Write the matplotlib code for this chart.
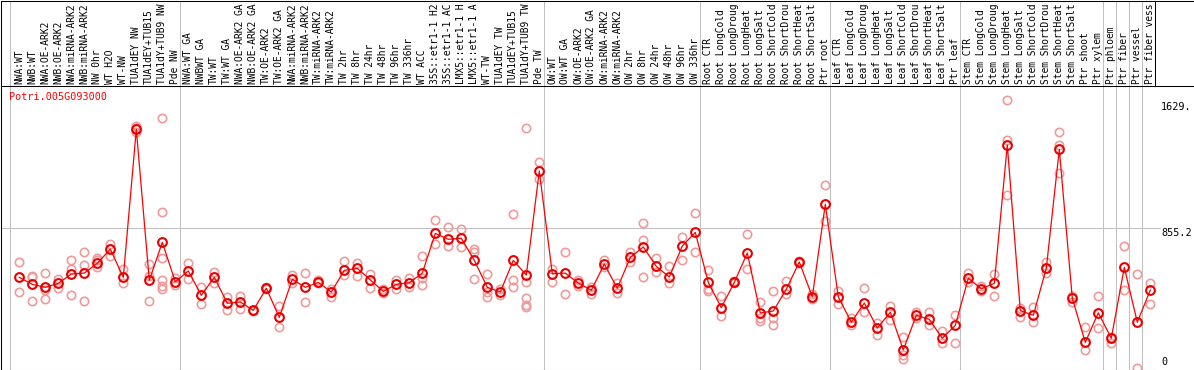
import matplotlib
matplotlib.use("Agg")
import matplotlib.pyplot as plt
from matplotlib.lines import Line2D
import matplotlib.transforms as mtransforms

# ---------------- data ----------------
gene = "Potri.005G093000"

# sample labels as they appear (the header row shows at most 14 characters)
group_1 = ["NWA:WT", "NWB:WT", "NWA:OE-ARK2", "NWB:OE-ARK2", "NWA:miRNA-ARK2",
           "NWB:miRNA-ARK2", "NW 0hr", "WT H2O", "WT-NW", "TUA1dEY NW",
           "TUA1dEY+TUB15", "TUA1dY+TUB9 NW", "Pde NW"]
group_2 = ["NWA:WT GA", "NWBWT GA", "TW:WT", "TW:WT GA", "NWA:OE-ARK2 GA",
           "NWB:OE-ARK2 GA", "TW:OE-ARK2", "TW:OE-ARK2 GA", "NWA:miRNA-ARK2",
           "NWB:miRNA-ARK2", "TW:miRNA-ARK2", "TW:miRNA-ARK2", "TW 2hr", "TW 8hr",
           "TW 24hr", "TW 48hr", "TW 96hr", "TW 336hr", "WT ACC",
           "35S::etr1-1 H2", "35S::etr1-1 AC", "LMX5::etr1-1 H",
           "LMX5::etr1-1 A", "WT-TW", "TUA1dEY TW", "TUA1dEY+TUB15",
           "TUA1dY+TUB9 TW", "Pde TW"]
group_3 = ["OW:WT", "OW:WT GA", "OW:OE-ARK2", "OW:OE-ARK2 GA", "OW:miRNA-ARK2",
           "OW:miRNA-ARK2", "OW 2hr", "OW 8hr", "OW 24hr", "OW 48hr", "OW 96hr",
           "OW 336hr"]
group_4 = ["Root CTR", "Root LongCold", "Root LongDroug", "Root LongHeat",
           "Root LongSalt", "Root ShortCold", "Root ShortDrou", "Root ShortHeat",
           "Root ShortSalt", "Ptr root"]
group_5 = ["Leaf CTR", "Leaf LongCold", "Leaf LongDroug", "Leaf LongHeat",
           "Leaf LongSalt", "Leaf ShortCold", "Leaf ShortDrou", "Leaf ShortHeat",
           "Leaf ShortSalt", "Ptr leaf"]
group_6 = ["Stem CTR", "Stem LongCold", "Stem LongDroug", "Stem LongHeat",
           "Stem LongSalt", "Stem ShortCold", "Stem ShortDrou", "Stem ShortHeat",
           "Stem ShortSalt", "Ptr shoot", "Ptr xylem"]
group_7 = ["Ptr phloem"]
group_8 = ["Ptr fiber"]
group_9 = ["Ptr vessel"]
group_10 = ["Ptr fiber vess"]
groups = [group_1, group_2, group_3, group_4, group_5, group_6,
          group_7, group_8, group_9, group_10]

means = [555, 512, 494, 518, 575, 581, 641, 728, 555, 1461, 537, 769, 528,
         594, 445, 555, 396, 404, 353, 488, 310, 543, 494, 524, 465, 598, 610,
         539, 469, 512, 522, 581, 824, 788, 794, 659, 494, 465, 659, 569, 1206,
         577, 581, 520, 476, 636, 488, 677, 741, 622, 557, 747, 830,
         524, 369, 524, 704, 337, 349, 482, 649, 436, 1002,
         435, 280, 398, 245, 341, 110, 323, 298, 182, 261,
         549, 485, 518, 1365, 351, 323, 610, 1338, 427, 157, 338,
         182, 616, 280, 477]

replicates = [
    [647, 463], [566, 560, 410], [581, 477, 420], [547, 491], [659, 606, 447],
    [708, 630, 410], [675, 661, 618], [759, 687], [606, 518], [1481, 1469, 1446],
    [636, 563, 410], [1528, 953, 671, 537, 502, 482], [549, 508],
    [643, 543], [498, 390], [588, 522], [435, 353], [441, 363], [351, 358],
    [498, 483], [379, 249], [567, 518], [581, 404], [539, 518], [483, 436],
    [653, 567], [644, 563], [577, 488], [482, 457], [539, 482], [553, 494],
    [685, 549, 506], [906, 757], [863, 747], [851, 742], [728, 712, 543],
    [573, 465, 436], [482, 445], [941, 537, 498], [1467, 528, 427, 386, 375],
    [1261, 1157],
    [604, 526], [708, 453], [539, 502], [498, 453], [659, 620], [518, 457],
    [710, 649], [886, 783, 555], [671, 589], [622, 518], [804, 659], [947, 708],
    [598, 483, 471], [439, 316], [534, 518], [818, 604], [402, 308, 288],
    [469, 308, 261], [531, 453], [657, 641], [453, 420], [1118, 901],
    [471, 390], [306, 265], [490, 345], [274, 202], [379, 294], [188, 80, 53],
    [341, 304], [345, 261], [228, 151], [323, 151],
    [580, 528], [502, 471], [575, 439], [1640, 1395, 1057], [365, 314],
    [375, 280], [649, 580], [1442, 1365, 1195], [442, 404], [249, 110],
    [441, 245],
    [192, 151], [747, 477], [575, 0], [520, 390],
]

y_marks = ["1629.", "855.2", "0"]
y_mark_values = [1629, 855.2, 0]

# ---------------- layout helpers ----------------
W, H = 1194, 370
fig = plt.figure(figsize=(W / 100, H / 100), dpi=100)


def rect(x0, y0, x1, y1):
    return [x0 / W, 1 - y1 / H, (x1 - x0) / W, (y1 - y0) / H]


x0_px, dx_px = 19.3, 13.0          # pixel position of first sample, spacing
y0_px, dy_px = 368.0, 0.16335       # pixel of value 0, pixels per unit


def px_to_idx(px):
    return (px - x0_px) / dx_px


def px_to_val(py):
    return (y0_px - py) / dy_px


labels = [s for g in groups for s in g]
idx = list(range(len(labels)))

mono = "DejaVu Sans Mono"
grid_c = "#c0c0c0"
lw1 = 0.75

# ---------------- data axes ----------------
ax = fig.add_axes(rect(1, 85.5, 1155, 369.5))
ax.set_xlim(px_to_idx(1), px_to_idx(1155))
ax.set_ylim(px_to_val(369.5), px_to_val(85.5))
ax.set_xticks([])
ax.set_yticks([])
for s in ["top", "right"]:
    ax.spines[s].set_visible(False)
for s in ["left", "bottom"]:
    ax.spines[s].set_linewidth(lw1)
    ax.spines[s].set_color("black")

# labels axes
lax = fig.add_axes(rect(1, 0.5, 1155, 85.5))
lax.set_xlim(px_to_idx(1), px_to_idx(1155))
lax.set_ylim(0, 1)
lax.set_xticks([])
lax.set_yticks([])
for s in lax.spines.values():
    s.set_linewidth(lw1)
    s.set_color("black")

# group separators
bounds = [-0.7]
c = 0
for g in groups:
    c += len(g)
    bounds.append(c - 1 + 0.38)
for b in bounds:
    ax.axvline(b, color=grid_c, lw=lw1, zorder=0)
    if b < bounds[-1]:
        lax.axvline(b, color=grid_c, lw=lw1, zorder=0)

# horizontal reference line
ax.plot([px_to_idx(1), px_to_idx(1160)], [y_mark_values[1]] * 2,
        color=grid_c, lw=lw1, zorder=0, clip_on=False)

# replicate points
rx, ry = [], []
for i, reps in zip(idx, replicates):
    for v in reps:
        rx.append(i)
        ry.append(v)
ax.plot(rx, ry, linestyle="none", marker="o", ms=6, mfc="none",
        mec="#f09a9a", mew=1.2, zorder=2, clip_on=True)

# mean line and points
ax.plot(idx, means, color="#ff0000", lw=0.9, zorder=3)
ax.plot(idx, means, linestyle="none", marker="o", ms=6.3, mfc="none",
        mec="#e80000", mew=1.5, zorder=4)

# gene title
ax.text(px_to_idx(9), px_to_val(96.5), gene, color="#ff0000", fontsize=7.3,
        family=mono, ha="left", va="center")

# sample labels
trans = mtransforms.blended_transform_factory(lax.transData, lax.transAxes)
for i, lab in zip(idx, labels):
    lax.text(i, 2.0 / 85, lab, rotation=90, ha="center", va="bottom",
             fontsize=6.95, family=mono, color="black", transform=trans)

# right side value labels
label_px_y = [107.3, 232.7, 361.7]
for txt, py in zip(y_marks, label_px_y):
    fig.text(1161 / W, 1 - py / H, txt, fontsize=7.3, family=mono,
             ha="left", va="center", color="black")

# frame lines extending to the right edge
for py in [0.5, 85.5]:
    fig.add_artist(Line2D([1155 / W, 1], [1 - py / H] * 2, color="black",
                          lw=lw1))

fig.savefig("out.png", dpi=100, facecolor="white")
